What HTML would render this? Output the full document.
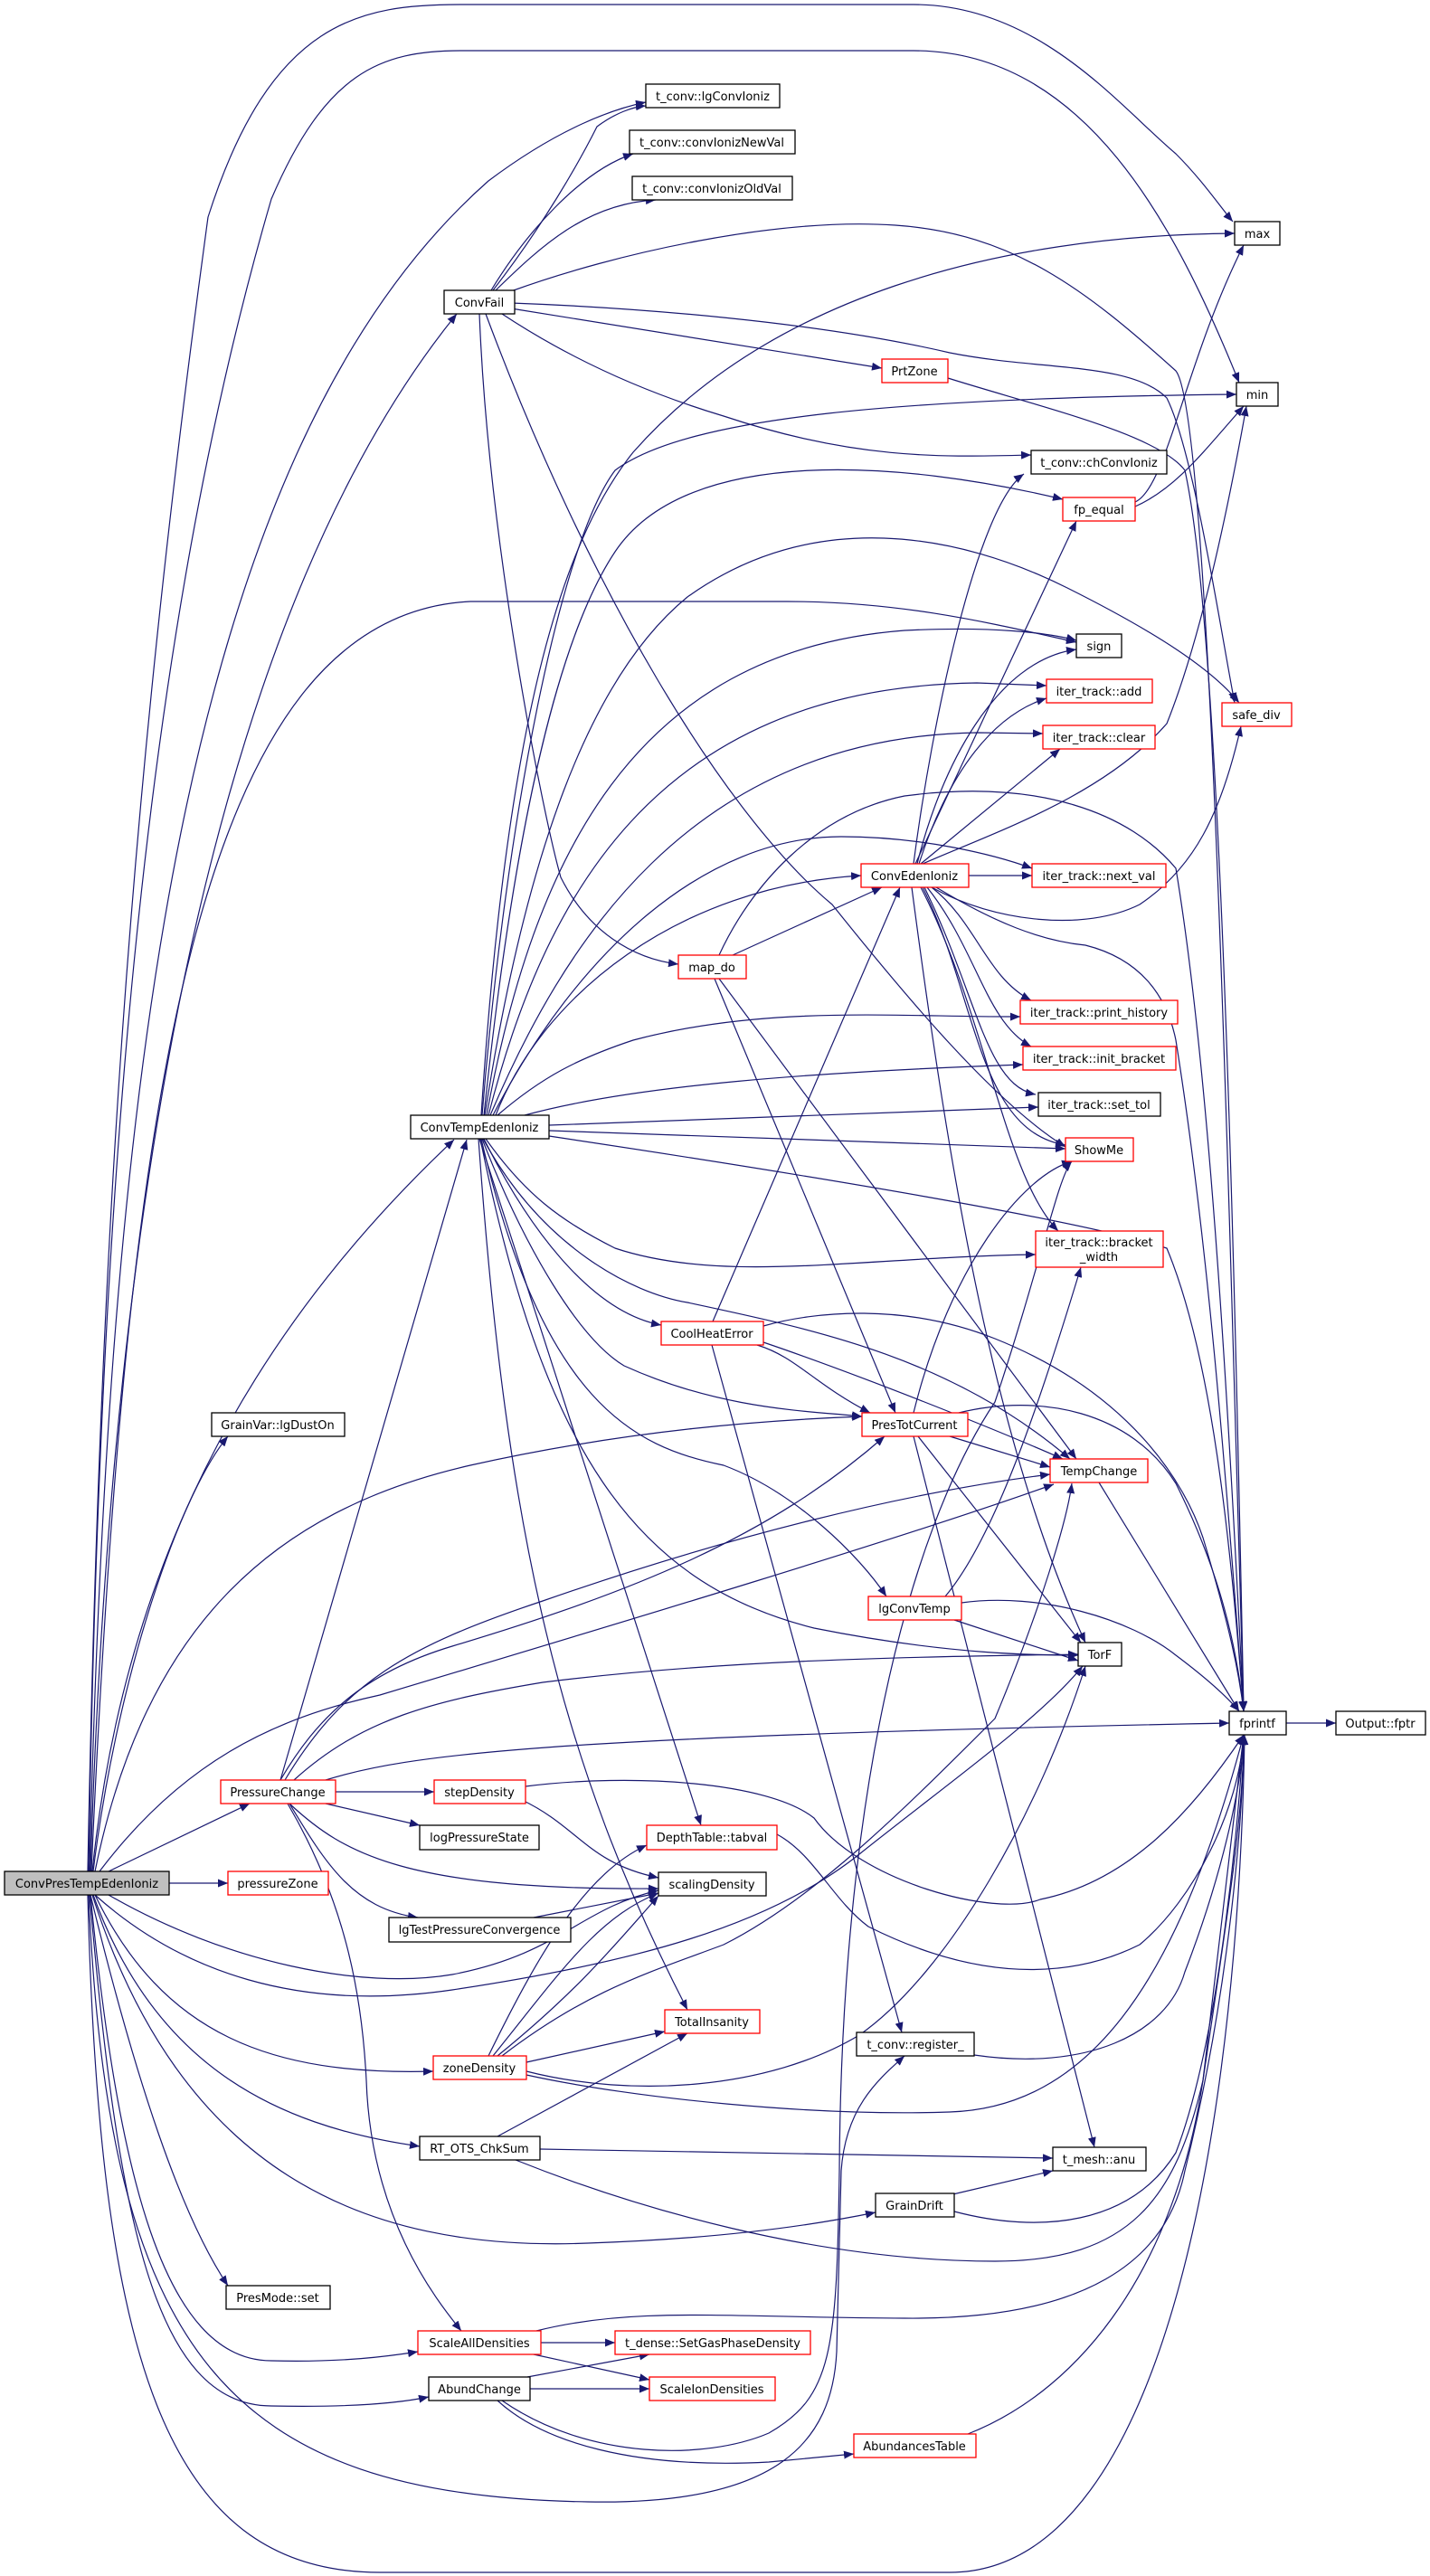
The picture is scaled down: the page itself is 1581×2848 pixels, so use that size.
<!DOCTYPE html>
<html><head><meta charset="utf-8"><style>
html,body{margin:0;padding:0;background:#fff;}
svg{display:block;}
text{font-family:"DejaVu Sans","Liberation Sans",sans-serif;font-size:13px;fill:#000;}
.e{fill:none;stroke:#191970;stroke-width:1.2;marker-end:url(#a);}
.n{fill:#fff;stroke:#000;stroke-width:1.3;}
.r{fill:#fff;stroke:#ff0000;stroke-width:1.3;}
</style></head><body>
<svg width="1581" height="2848" viewBox="0 0 1581 2848" xmlns="http://www.w3.org/2000/svg">
<defs><marker id="a" markerUnits="userSpaceOnUse" markerWidth="12" markerHeight="9" refX="11" refY="4.5" orient="auto"><path d="M0,0 L11,4.5 L0,9 z" fill="#191970"/></marker></defs>
<g>
<!-- ConvPresTempEdenIoniz edges -->
<path class="e" d="M97,2069 C110,1400 140,900 230,240 C300,20 400,5 510,5 L1010,5 C1150,5 1240,120 1300,170 C1330,200 1350,230 1363,245"/>
<path class="e" d="M98,2069 C110,1300 160,700 300,220 C360,80 420,56 510,56 L1010,56 C1200,56 1300,250 1370,423"/>
<path class="e" d="M99,2069 C120,1200 200,500 540,200 C620,140 680,120 714,113"/>
<path class="e" d="M100,2069 C130,1100 300,600 505,347"/>
<path class="e" d="M101,2069 C140,1200 220,680 520,665 L870,665 C1000,665 1100,690 1190,710"/>
<path class="e" d="M102,2069 C140,1700 300,1450 502,1260"/>
<path class="e" d="M103,2069 C130,1850 200,1650 252,1588"/>
<path class="e" d="M105,2069 C160,1800 300,1670 520,1620 C700,1580 850,1570 953,1566"/>
<path class="e" d="M120,2069 L276,1994"/>
<path class="e" d="M187,2082 L252,2082"/>
<path class="e" d="M110,2069 C200,1950 300,1900 420,1874 C700,1790 1000,1700 1165,1641"/>
<path class="e" d="M120,2095 C250,2170 400,2200 500,2183 C620,2160 640,2110 728,2090"/>
<path class="e" d="M105,2095 C200,2180 330,2225 500,2200 C700,2170 850,2130 950,2050 C1050,1970 1150,1900 1197,1842"/>
<path class="e" d="M105,2095 C180,2250 300,2295 479,2290"/>
<path class="e" d="M103,2095 C170,2280 300,2350 464,2373"/>
<path class="e" d="M102,2095 C200,2400 400,2490 650,2480 C800,2475 900,2460 968,2446"/>
<path class="e" d="M100,2095 C150,2300 200,2450 252,2527"/>
<path class="e" d="M100,2095 C130,2400 180,2610 300,2610 C380,2612 430,2605 462,2600"/>
<path class="e" d="M99,2095 C130,2450 170,2660 300,2660 C400,2662 450,2655 474,2650"/>
<path class="e" d="M98,2095 C120,2600 250,2760 650,2766 C860,2770 920,2700 925,2600 L930,2400 C935,2330 970,2300 1000,2273"/>
<path class="e" d="M97,2095 C110,2600 180,2844 420,2844 L1050,2844 C1300,2844 1370,2300 1376,1918"/>
<!-- ConvFail -->
<path class="e" d="M545,321 C600,250 640,180 660,140 C680,125 700,118 714,117"/>
<path class="e" d="M543,321 C580,260 640,190 700,170"/>
<path class="e" d="M548,321 C600,270 650,225 725,221"/>
<path class="e" d="M565,322 C680,280 860,240 990,249 C1120,258 1200,320 1300,410 C1340,460 1360,1400 1375,1892"/>
<path class="e" d="M565,335 C700,340 900,355 1050,390 C1150,410 1250,400 1290,440 C1320,500 1350,700 1365,777"/>
<path class="e" d="M565,341 L975,407"/>
<path class="e" d="M555,347 C620,390 700,430 800,460 C950,510 1050,505 1140,503"/>
<path class="e" d="M530,347 C540,600 600,900 620,970 C650,1030 700,1060 750,1066"/>
<path class="e" d="M537,347 C650,650 800,900 920,1000 C1000,1100 1100,1220 1178,1268"/>
<path class="e" d="M1048,418 C1150,450 1280,480 1310,520 C1350,700 1365,1400 1375,1892"/>
<path class="e" d="M1255,555 C1290,540 1310,400 1375,271"/>
<path class="e" d="M1255,560 C1300,540 1330,500 1375,449"/>
<!-- ConvTempEdenIoniz -->
<path class="e" d="M532,1233 C560,800 620,600 700,500 C850,330 1100,260 1365,258"/>
<path class="e" d="M533,1233 C560,900 620,600 680,520 C760,460 1000,440 1367,436"/>
<path class="e" d="M535,1233 C570,900 620,700 680,610 C760,490 1000,510 1175,552"/>
<path class="e" d="M536,1233 C580,950 650,750 760,660 C900,560 1060,590 1180,650 C1280,700 1340,740 1370,777"/>
<path class="e" d="M538,1233 C590,950 700,720 1000,697 C1100,692 1160,700 1190,708"/>
<path class="e" d="M540,1233 C600,1000 720,760 1080,755 L1157,758"/>
<path class="e" d="M542,1233 C620,1050 760,815 1080,810 L1153,811"/>
<path class="e" d="M545,1233 C640,1050 780,925 930,925 C1020,925 1100,945 1141,960"/>
<path class="e" d="M548,1233 C600,1100 750,980 952,968"/>
<path class="e" d="M550,1233 C600,1190 640,1170 700,1150 C850,1110 1000,1125 1128,1124"/>
<path class="e" d="M580,1233 C700,1200 900,1185 1131,1177"/>
<path class="e" d="M607,1244 L1148,1224"/>
<path class="e" d="M607,1250 L1178,1270"/>
<path class="e" d="M607,1256 C900,1300 1200,1350 1290,1380 C1340,1500 1360,1700 1375,1892"/>
<path class="e" d="M537,1259 C580,1320 620,1350 680,1380 C800,1420 950,1390 1145,1387"/>
<path class="e" d="M535,1259 C580,1350 650,1450 731,1465"/>
<path class="e" d="M534,1259 C600,1380 700,1430 760,1440 C900,1470 1050,1500 1183,1613"/>
<path class="e" d="M533,1259 C580,1380 640,1480 690,1510 C800,1560 900,1560 953,1566"/>
<path class="e" d="M532,1259 C600,1550 700,1600 800,1620 C880,1650 950,1720 980,1765"/>
<path class="e" d="M531,1259 C600,1600 700,1750 900,1800 C1050,1830 1150,1830 1192,1830"/>
<path class="e" d="M530,1259 L775,2018"/>
<path class="e" d="M529,1259 C560,1700 620,1950 760,2222"/>
<!-- ConvEdenIoniz -->
<path class="e" d="M1071,968 L1141,968"/>
<path class="e" d="M1010,955 C1030,800 1080,560 1132,524"/>
<path class="e" d="M1012,955 L1190,576"/>
<path class="e" d="M1014,955 C1040,850 1100,730 1190,718"/>
<path class="e" d="M1016,955 C1050,850 1100,790 1157,772"/>
<path class="e" d="M1018,955 L1172,828"/>
<path class="e" d="M1020,955 C1100,920 1220,880 1290,800 C1330,700 1360,550 1378,449"/>
<path class="e" d="M1030,981 C1100,1020 1200,1030 1260,1000 C1320,960 1350,900 1372,803"/>
<path class="e" d="M1035,981 C1100,1020 1150,1040 1200,1045 C1260,1060 1290,1100 1300,1150 C1340,1400 1360,1700 1375,1892"/>
<path class="e" d="M1030,981 C1080,1020 1090,1080 1140,1106"/>
<path class="e" d="M1025,981 C1080,1050 1090,1130 1140,1157"/>
<path class="e" d="M1022,981 C1080,1100 1090,1200 1145,1210"/>
<path class="e" d="M1020,981 C1080,1100 1080,1250 1178,1266"/>
<path class="e" d="M1018,981 C1090,1120 1110,1300 1170,1361"/>
<path class="e" d="M1008,981 C1050,1300 1100,1600 1200,1816"/>
<!-- map_do -->
<path class="e" d="M810,1056 L975,981"/>
<path class="e" d="M795,1056 C830,980 900,900 1000,880 C1150,860 1250,900 1300,960 C1340,1200 1360,1600 1375,1892"/>
<path class="e" d="M790,1082 L990,1562"/>
<path class="e" d="M795,1082 L1190,1613"/>
<!-- CoolHeatError -->
<path class="e" d="M788,1461 L995,981"/>
<path class="e" d="M844,1466 C900,1450 1000,1440 1100,1480 C1250,1540 1310,1640 1330,1700 C1360,1800 1370,1850 1375,1892"/>
<path class="e" d="M837,1487 C880,1500 900,1530 962,1562"/>
<path class="e" d="M844,1484 C950,1520 1100,1580 1175,1613"/>
<path class="e" d="M787,1487 L997,2247"/>
<!-- PresTotCurrent -->
<path class="e" d="M1010,1562 C1050,1400 1130,1300 1185,1284"/>
<path class="e" d="M1050,1588 L1161,1622"/>
<path class="e" d="M1015,1588 L1195,1816"/>
<path class="e" d="M1060,1562 C1150,1540 1250,1560 1300,1640 C1340,1720 1365,1800 1375,1892"/>
<path class="e" d="M1010,1588 L1210,2374"/>
<!-- lgConvTemp -->
<path class="e" d="M1045,1765 C1100,1700 1150,1550 1195,1401"/>
<path class="e" d="M1055,1791 L1192,1836"/>
<path class="e" d="M1063,1772 C1150,1760 1250,1790 1300,1830 C1340,1860 1360,1880 1370,1892"/>
<path class="e" d="M1215,1639 L1370,1892"/>
<path class="e" d="M1422,1905 L1477,1905"/>
<!-- PressureChange -->
<path class="e" d="M310,1968 L516,1260"/>
<path class="e" d="M371,1981 L480,1981"/>
<path class="e" d="M360,1994 L464,2018"/>
<path class="e" d="M320,1994 C380,2050 450,2090 728,2088"/>
<path class="e" d="M320,1994 C360,2060 390,2110 462,2120"/>
<path class="e" d="M318,1994 C380,2100 400,2200 405,2300 C410,2450 480,2540 510,2577"/>
<path class="e" d="M310,1968 C350,1900 400,1850 500,1820 C700,1760 850,1700 978,1588"/>
<path class="e" d="M315,1968 C380,1860 450,1820 600,1770 C800,1700 1000,1650 1161,1630"/>
<path class="e" d="M325,1968 C400,1900 480,1880 600,1860 C800,1835 1000,1832 1192,1829"/>
<path class="e" d="M360,1968 C450,1940 600,1920 1359,1905"/>
<!-- stepDensity etc -->
<path class="e" d="M581,1975 C700,1960 850,1970 900,2010 C950,2080 1100,2120 1150,2100 C1250,2080 1320,2000 1375,1918"/>
<path class="e" d="M577,1990 C640,2020 650,2060 728,2076"/>
<path class="e" d="M859,2028 C900,2050 920,2100 960,2130 C1100,2200 1200,2180 1260,2150 C1320,2100 1370,2000 1375,1918"/>
<path class="e" d="M590,2120 L728,2093"/>
<path class="e" d="M540,2273 C600,2150 650,2070 715,2040"/>
<path class="e" d="M545,2273 C620,2180 660,2120 728,2093"/>
<path class="e" d="M550,2273 C640,2200 680,2150 728,2096"/>
<path class="e" d="M582,2280 L735,2246"/>
<path class="e" d="M582,2294 C700,2320 900,2340 1050,2335 C1200,2330 1300,2200 1375,1918"/>
<path class="e" d="M582,2290 C700,2320 850,2310 950,2250 C1050,2180 1150,2000 1200,1842"/>
<path class="e" d="M555,2273 C650,2200 720,2180 800,2150 C900,2100 1000,2000 1100,1900 C1150,1780 1180,1680 1185,1640"/>
<path class="e" d="M550,2362 L760,2248"/>
<path class="e" d="M597,2376 L1164,2386"/>
<path class="e" d="M570,2388 C700,2440 900,2500 1100,2500 C1250,2500 1300,2430 1330,2300 L1375,1918"/>
<path class="e" d="M1045,2428 L1164,2400"/>
<path class="e" d="M1055,2445 C1150,2470 1250,2460 1300,2380 C1350,2250 1370,2000 1375,1918"/>
<path class="e" d="M1077,2272 C1200,2290 1290,2250 1310,2180 C1360,2050 1375,1950 1375,1918"/>
<path class="e" d="M598,2590 L680,2590"/>
<path class="e" d="M590,2603 L718,2631"/>
<path class="e" d="M593,2577 C700,2550 800,2562 1000,2563 C1200,2565 1290,2500 1310,2400 C1360,2200 1375,2000 1375,1918"/>
<path class="e" d="M583,2628 L718,2603"/>
<path class="e" d="M586,2641 L718,2641"/>
<path class="e" d="M550,2654 C600,2700 700,2730 850,2722 L944,2713"/>
<path class="e" d="M555,2654 C650,2720 780,2720 850,2690 C920,2650 925,2600 928,2400 C930,2000 1000,1700 1100,1550 C1150,1400 1170,1300 1185,1284"/>
<path class="e" d="M1070,2691 C1200,2640 1300,2500 1330,2300 C1360,2100 1375,2000 1375,1918"/>
</g>
<g>
<rect class="n" x="714" y="93" width="148" height="26"/><text x="788" y="111" text-anchor="middle">t_conv::lgConvIoniz</text>
<rect class="n" x="696" y="144" width="183" height="26"/><text x="787" y="162" text-anchor="middle">t_conv::convIonizNewVal</text>
<rect class="n" x="699" y="195" width="177" height="26"/><text x="787" y="213" text-anchor="middle">t_conv::convIonizOldVal</text>
<rect class="n" x="1365" y="245" width="50" height="26"/><text x="1390" y="263" text-anchor="middle">max</text>
<rect class="n" x="491" y="321" width="78" height="26"/><text x="530" y="339" text-anchor="middle">ConvFail</text>
<rect class="r" x="975" y="397" width="73" height="26"/><text x="1011" y="415" text-anchor="middle">PrtZone</text>
<rect class="n" x="1367" y="423" width="46" height="26"/><text x="1390" y="441" text-anchor="middle">min</text>
<rect class="n" x="1140" y="498" width="150" height="26"/><text x="1215" y="516" text-anchor="middle">t_conv::chConvIoniz</text>
<rect class="r" x="1175" y="550" width="80" height="26"/><text x="1215" y="568" text-anchor="middle">fp_equal</text>
<rect class="n" x="1190" y="701" width="50" height="26"/><text x="1215" y="719" text-anchor="middle">sign</text>
<rect class="r" x="1157" y="751" width="117" height="26"/><text x="1215" y="769" text-anchor="middle">iter_track::add</text>
<rect class="r" x="1351" y="777" width="77" height="26"/><text x="1389" y="795" text-anchor="middle">safe_div</text>
<rect class="r" x="1153" y="802" width="124" height="26"/><text x="1215" y="820" text-anchor="middle">iter_track::clear</text>
<rect class="r" x="952" y="955" width="119" height="26"/><text x="1011" y="973" text-anchor="middle">ConvEdenIoniz</text>
<rect class="r" x="1141" y="955" width="148" height="26"/><text x="1215" y="973" text-anchor="middle">iter_track::next_val</text>
<rect class="r" x="750" y="1056" width="75" height="26"/><text x="787" y="1074" text-anchor="middle">map_do</text>
<rect class="r" x="1128" y="1106" width="174" height="26"/><text x="1215" y="1124" text-anchor="middle">iter_track::print_history</text>
<rect class="r" x="1131" y="1157" width="169" height="26"/><text x="1215" y="1175" text-anchor="middle">iter_track::init_bracket</text>
<rect class="n" x="1148" y="1208" width="135" height="26"/><text x="1215" y="1226" text-anchor="middle">iter_track::set_tol</text>
<rect class="n" x="454" y="1233" width="153" height="26"/><text x="530" y="1251" text-anchor="middle">ConvTempEdenIoniz</text>
<rect class="r" x="1178" y="1258" width="75" height="26"/><text x="1215" y="1276" text-anchor="middle">ShowMe</text>
<rect class="r" x="1145" y="1361" width="141" height="40"/><text x="1215" y="1378" text-anchor="middle">iter_track::bracket</text><text x="1215" y="1394" text-anchor="middle">_width</text>
<rect class="r" x="731" y="1461" width="113" height="26"/><text x="787" y="1479" text-anchor="middle">CoolHeatError</text>
<rect class="n" x="234" y="1562" width="147" height="26"/><text x="307" y="1580" text-anchor="middle">GrainVar::lgDustOn</text>
<rect class="r" x="953" y="1562" width="117" height="26"/><text x="1011" y="1580" text-anchor="middle">PresTotCurrent</text>
<rect class="r" x="1161" y="1613" width="108" height="26"/><text x="1215" y="1631" text-anchor="middle">TempChange</text>
<rect class="r" x="960" y="1765" width="103" height="26"/><text x="1011" y="1783" text-anchor="middle">lgConvTemp</text>
<rect class="n" x="1192" y="1816" width="48" height="26"/><text x="1216" y="1834" text-anchor="middle">TorF</text>
<rect class="n" x="1359" y="1892" width="63" height="26"/><text x="1390" y="1910" text-anchor="middle">fprintf</text>
<rect class="n" x="1477" y="1892" width="99" height="26"/><text x="1526" y="1910" text-anchor="middle">Output::fptr</text>
<rect class="r" x="244" y="1968" width="127" height="26"/><text x="307" y="1986" text-anchor="middle">PressureChange</text>
<rect class="r" x="480" y="1968" width="101" height="26"/><text x="530" y="1986" text-anchor="middle">stepDensity</text>
<rect class="n" x="464" y="2018" width="132" height="27"/><text x="530" y="2036" text-anchor="middle">logPressureState</text>
<rect class="r" x="715" y="2018" width="144" height="27"/><text x="787" y="2036" text-anchor="middle">DepthTable::tabval</text>
<rect x="5" y="2069" width="182" height="26" fill="#bfbfbf" stroke="#000" stroke-width="1.3"/><text x="96" y="2087" text-anchor="middle">ConvPresTempEdenIoniz</text>
<rect class="r" x="252" y="2069" width="111" height="26"/><text x="307" y="2087" text-anchor="middle">pressureZone</text>
<rect class="n" x="728" y="2070" width="119" height="26"/><text x="787" y="2088" text-anchor="middle">scalingDensity</text>
<rect class="n" x="430" y="2120" width="201" height="27"/><text x="530" y="2138" text-anchor="middle">lgTestPressureConvergence</text>
<rect class="r" x="735" y="2222" width="105" height="26"/><text x="787" y="2240" text-anchor="middle">TotalInsanity</text>
<rect class="n" x="947" y="2247" width="130" height="26"/><text x="1012" y="2265" text-anchor="middle">t_conv::register_</text>
<rect class="r" x="479" y="2273" width="103" height="26"/><text x="530" y="2291" text-anchor="middle">zoneDensity</text>
<rect class="n" x="464" y="2362" width="133" height="26"/><text x="530" y="2380" text-anchor="middle">RT_OTS_ChkSum</text>
<rect class="n" x="1164" y="2374" width="103" height="26"/><text x="1215" y="2392" text-anchor="middle">t_mesh::anu</text>
<rect class="n" x="968" y="2425" width="87" height="26"/><text x="1011" y="2443" text-anchor="middle">GrainDrift</text>
<rect class="n" x="250" y="2527" width="115" height="26"/><text x="307" y="2545" text-anchor="middle">PresMode::set</text>
<rect class="r" x="462" y="2577" width="136" height="26"/><text x="530" y="2595" text-anchor="middle">ScaleAllDensities</text>
<rect class="r" x="680" y="2577" width="216" height="26"/><text x="788" y="2595" text-anchor="middle">t_dense::SetGasPhaseDensity</text>
<rect class="n" x="474" y="2628" width="112" height="26"/><text x="530" y="2646" text-anchor="middle">AbundChange</text>
<rect class="r" x="718" y="2628" width="139" height="26"/><text x="787" y="2646" text-anchor="middle">ScaleIonDensities</text>
<rect class="r" x="944" y="2691" width="135" height="26"/><text x="1011" y="2709" text-anchor="middle">AbundancesTable</text>
</g>
</svg>
</body></html>
